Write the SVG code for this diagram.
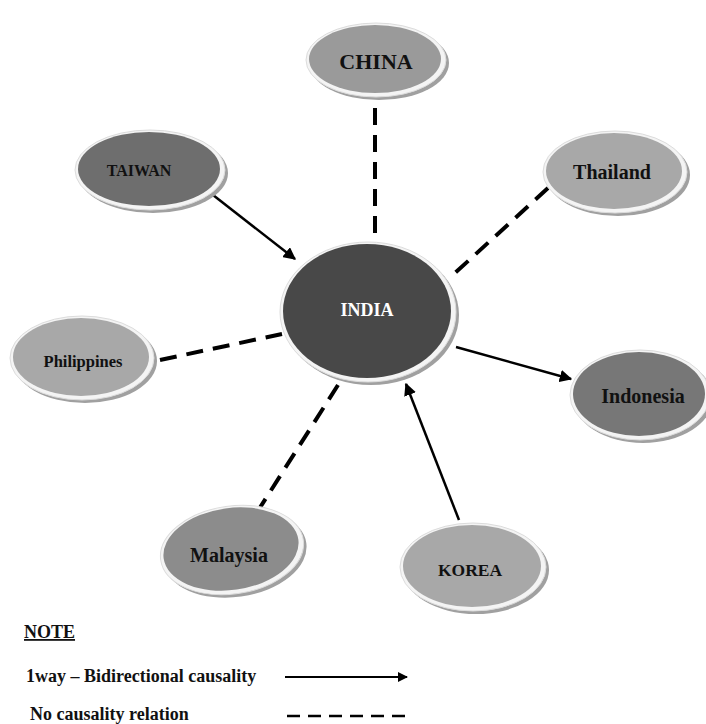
<svg xmlns="http://www.w3.org/2000/svg" width="706" height="724" viewBox="0 0 706 724">
<defs>
<marker id="ah" viewBox="0 0 10 10" refX="9" refY="5" markerWidth="5" markerHeight="5" orient="auto" markerUnits="strokeWidth">
<path d="M0,0 L10,5 L0,10 z" fill="#000"/>
</marker>
</defs>
<style>
.sh{fill:#a0a0a0}
.rim{fill:#f4f4f4;stroke:#dcdcdc;stroke-width:1}
.t{font-family:"Liberation Serif","Times New Roman",serif;font-weight:bold;text-anchor:middle;dominant-baseline:central;fill:#111}
.solid{stroke:#000;stroke-width:2.5;fill:none;marker-end:url(#ah)}
.dash{stroke:#000;stroke-width:4;fill:none;stroke-dasharray:17 10}
.leg{font-family:"Liberation Serif","Times New Roman",serif;font-weight:bold;font-size:18px;fill:#111}
</style>
<rect width="706" height="724" fill="#fff"/>
<g id="connectors">
<line class="dash" x1="375" y1="108" x2="375" y2="234"/>
<line class="solid" x1="213" y1="195" x2="295" y2="259"/>
<line class="dash" x1="548" y1="188" x2="455" y2="273"/>
<line class="dash" x1="160" y1="360" x2="282" y2="334"/>
<line class="solid" x1="456" y1="347" x2="571" y2="379"/>
<line class="solid" x1="459" y1="520" x2="406" y2="384"/>
<line class="dash" x1="338" y1="385" x2="254" y2="517"/>
</g>
<g id="china">
<ellipse class="sh" cx="379" cy="63" rx="70" ry="37"/>
<ellipse class="rim" cx="376" cy="60" rx="70" ry="37"/>
<ellipse cx="375" cy="59" rx="66" ry="34" fill="#9a9a9a"/>
<text class="t" x="376" y="61" font-size="22">CHINA</text>
</g>
<g id="taiwan">
<ellipse class="sh" cx="153" cy="173" rx="75" ry="40"/>
<ellipse class="rim" cx="150" cy="170" rx="75" ry="40"/>
<ellipse cx="149" cy="169" rx="71" ry="37" fill="#6e6e6e"/>
<text class="t" x="139" y="170" font-size="16">TAIWAN</text>
</g>
<g id="thailand">
<ellipse class="sh" cx="618" cy="175" rx="72" ry="41"/>
<ellipse class="rim" cx="615" cy="172" rx="72" ry="41"/>
<ellipse cx="614" cy="171" rx="68" ry="38" fill="#a8a8a8"/>
<text class="t" x="612" y="172" font-size="20">Thailand</text>
</g>
<g id="india">
<ellipse class="sh" cx="371" cy="315" rx="88" ry="70"/>
<ellipse class="rim" cx="368" cy="312" rx="88" ry="70"/>
<ellipse cx="367" cy="311" rx="84" ry="67" fill="#484848"/>
<text class="t" x="367" y="310" font-size="18" style="fill:#fff">INDIA</text>
</g>
<g id="philippines">
<ellipse class="sh" cx="85" cy="361" rx="72" ry="42"/>
<ellipse class="rim" cx="82" cy="358" rx="72" ry="42"/>
<ellipse cx="81" cy="357" rx="68" ry="39" fill="#a8a8a8"/>
<text class="t" x="83" y="361" font-size="16.5">Philippines</text>
</g>
<g id="indonesia">
<ellipse class="sh" cx="643" cy="398" rx="70" ry="45"/>
<ellipse class="rim" cx="640" cy="395" rx="70" ry="45"/>
<ellipse cx="639" cy="394" rx="66" ry="42" fill="#777777"/>
<text class="t" x="643" y="396" font-size="20">Indonesia</text>
</g>
<g id="malaysia">
<ellipse class="sh" cx="235" cy="553" rx="72" ry="44" transform="rotate(-8 235 553)"/>
<ellipse class="rim" cx="232" cy="550" rx="72" ry="44" transform="rotate(-8 232 550)"/>
<ellipse cx="231" cy="549" rx="68" ry="41" fill="#8c8c8c" transform="rotate(-8 231 549)"/>
<text class="t" x="229" y="555" font-size="20">Malaysia</text>
</g>
<g id="korea">
<ellipse class="sh" cx="476" cy="570" rx="73" ry="44"/>
<ellipse class="rim" cx="473" cy="567" rx="73" ry="44"/>
<ellipse cx="472" cy="566" rx="69" ry="41" fill="#a8a8a8"/>
<text class="t" x="470" y="570" font-size="17.5">KOREA</text>
</g>
<g id="legend">
<text class="leg" x="24" y="638" text-decoration="underline">NOTE</text>
<text class="leg" x="26" y="682">1way – Bidirectional causality</text>
<line class="solid" x1="285" y1="677" x2="407" y2="677" style="stroke-width:2"/>
<text class="leg" x="30" y="720">No causality relation</text>
<line x1="287" y1="716" x2="405" y2="716" stroke="#000" stroke-width="2.5" stroke-dasharray="13 8"/>
</g>
</svg>
